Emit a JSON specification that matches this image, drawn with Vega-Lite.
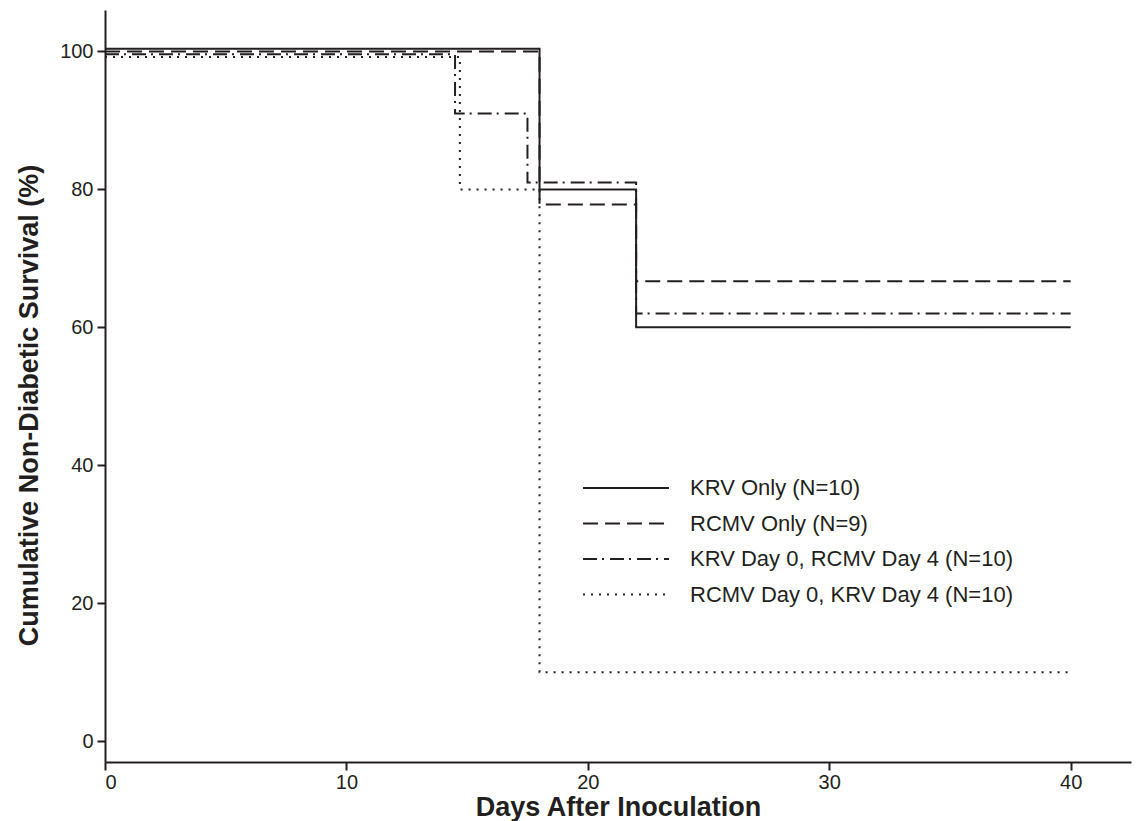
{
  "$schema": "https://vega.github.io/schema/vega-lite/v6.json",
  "width": 1026,
  "height": 752,
  "autosize": "none",
  "padding": {"left": 105, "top": 10, "right": 5, "bottom": 59},
  "background": "white",
  "config": {
    "view": {"stroke": null},
    "font": "Liberation Sans",
    "axis": {"grid": false, "domainColor": "#231f20", "domainWidth": 2, "tickColor": "#231f20", "tickWidth": 2, "tickSize": 8, "labelColor": "#231f20", "labelFontSize": 20, "labelFont": "Liberation Sans", "titleFont": "Liberation Sans", "titleFontWeight": "bold", "titleFontSize": 27, "titleColor": "#231f20"}
  },
  "data": {
    "values": [
      {"day": 0, "pct": 100.4, "group": "KRV Only (N=10)"},
      {"day": 18, "pct": 80, "group": "KRV Only (N=10)"},
      {"day": 22, "pct": 60, "group": "KRV Only (N=10)"},
      {"day": 40, "pct": 60, "group": "KRV Only (N=10)"},
      {"day": 0, "pct": 100, "group": "RCMV Only (N=9)"},
      {"day": 18, "pct": 77.8, "group": "RCMV Only (N=9)"},
      {"day": 22, "pct": 66.7, "group": "RCMV Only (N=9)"},
      {"day": 40, "pct": 66.7, "group": "RCMV Only (N=9)"},
      {"day": 0, "pct": 99.6, "group": "KRV Day 0, RCMV Day 4 (N=10)"},
      {"day": 14.5, "pct": 91, "group": "KRV Day 0, RCMV Day 4 (N=10)"},
      {"day": 17.5, "pct": 81, "group": "KRV Day 0, RCMV Day 4 (N=10)"},
      {"day": 22, "pct": 62, "group": "KRV Day 0, RCMV Day 4 (N=10)"},
      {"day": 40, "pct": 62, "group": "KRV Day 0, RCMV Day 4 (N=10)"},
      {"day": 0, "pct": 99.2, "group": "RCMV Day 0, KRV Day 4 (N=10)"},
      {"day": 14.7, "pct": 80, "group": "RCMV Day 0, KRV Day 4 (N=10)"},
      {"day": 18, "pct": 10, "group": "RCMV Day 0, KRV Day 4 (N=10)"},
      {"day": 40, "pct": 10, "group": "RCMV Day 0, KRV Day 4 (N=10)"}
    ]
  },
  "mark": {"type": "line", "interpolate": "step-after", "color": "#231f20", "strokeWidth": 2},
  "encoding": {
    "x": {"field": "day", "type": "quantitative", "scale": {"domain": [0, 42.5], "nice": false, "zero": false}, "axis": {"values": [0, 10, 20, 30, 40], "title": "Days After Inoculation", "labelPadding": 2, "titlePadding": 2}},
    "y": {"field": "pct", "type": "quantitative", "scale": {"domain": [-3, 106], "nice": false, "zero": false}, "axis": {"values": [0, 20, 40, 60, 80, 100], "title": "Cumulative Non-Diabetic Survival (%)", "labelPadding": 4, "titlePadding": 16, "titleY": 395}},
    "strokeDash": {
      "field": "group", "type": "nominal",
      "scale": {"domain": ["KRV Only (N=10)", "RCMV Only (N=9)", "KRV Day 0, RCMV Day 4 (N=10)", "RCMV Day 0, KRV Day 4 (N=10)"], "range": [[1, 0], [15, 7], [14, 5, 2, 6], [2, 6]]},
      "legend": {"title": null, "orient": "none", "legendX": 509, "legendY": 466, "symbolType": "M -4 0 H 4", "symbolSize": 462, "symbolStrokeWidth": 2, "symbolStrokeColor": "#231f20", "symbolFillColor": "transparent", "labelFontSize": 22, "labelColor": "#231f20", "labelOffset": 52, "labelLimit": 0, "rowPadding": 12.5}
    }
  }
}
